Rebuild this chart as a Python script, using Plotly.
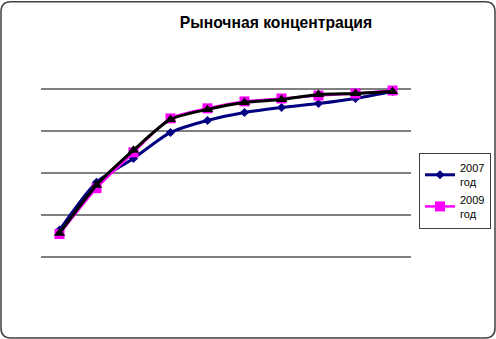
import plotly.graph_objects as go

categories = [1, 2, 3, 4, 5, 6, 7, 8, 9, 10]
series_2007 = [0.329, 0.557, 0.671, 0.795, 0.852, 0.890, 0.914, 0.933, 0.957, 0.990]
series_2009 = [0.310, 0.529, 0.700, 0.862, 0.910, 0.943, 0.957, 0.971, 0.981, 0.995]
series_3 = [0.314, 0.543, 0.710, 0.857, 0.905, 0.938, 0.952, 0.976, 0.981, 0.990]
names = ["2007<br>год", "2009<br>год"]
title_text = "Рыночная концентрация"

W, H = 496, 339
YMAX = 1.05
L, R, B = 41, 411, 299
T = B - 210 * YMAX
pw, ph = R - L, B - T

fig = go.Figure()
fig.add_trace(go.Scatter(
    x=categories, y=series_2007, name=names[0], mode="lines+markers",
    line=dict(color="#000080", width=3, shape="spline", smoothing=0.7),
    marker=dict(symbol="diamond", size=7, color="#000080")))
fig.add_trace(go.Scatter(
    x=categories, y=series_2009, name=names[1], mode="lines+markers",
    line=dict(color="#FF00FF", width=2.5, shape="spline", smoothing=0.7),
    marker=dict(symbol="square", size=10, color="#FF00FF")))
fig.add_trace(go.Scatter(
    x=categories, y=series_3, name="", mode="lines+markers", showlegend=False,
    line=dict(color="#000000", width=3, shape="spline", smoothing=0.7),
    marker=dict(symbol="triangle-up", size=10, color="#000000")))

def px_x(p):
    return (p - L) / pw

def px_y(p):
    return (B - p) / ph

# rounded chart border
x0, x1, y0, y1, r = 1, 495, 1, 338, 10
path = (f"M {px_x(x0 + r)} {px_y(y0)} L {px_x(x1 - r)} {px_y(y0)} "
        f"Q {px_x(x1)} {px_y(y0)} {px_x(x1)} {px_y(y0 + r)} "
        f"L {px_x(x1)} {px_y(y1 - r)} Q {px_x(x1)} {px_y(y1)} {px_x(x1 - r)} {px_y(y1)} "
        f"L {px_x(x0 + r)} {px_y(y1)} Q {px_x(x0)} {px_y(y1)} {px_x(x0)} {px_y(y1 - r)} "
        f"L {px_x(x0)} {px_y(y0 + r)} Q {px_x(x0)} {px_y(y0)} {px_x(x0 + r)} {px_y(y0)} Z")
fig.add_shape(type="path", path=path, xref="paper", yref="paper",
              line=dict(color="#404040", width=1.5), layer="below")

fig.update_layout(
    width=W, height=H,
    margin=dict(l=L, r=W - R, t=T, b=H - B, autoexpand=False),
    paper_bgcolor="white", plot_bgcolor="white",
    font=dict(family="Liberation Sans, Arial, sans-serif", color="black"),
    title=dict(text=f"<b>{title_text}</b>", x=276 / W, xanchor="center", xref="container",
               y=1 - 23 / H, yanchor="middle", yref="container", font=dict(size=15.7)),
    showlegend=True,
    legend=dict(x=419 / W, y=1 - 153 / H, xref="container", yref="container",
                xanchor="left", yanchor="top",
                bordercolor="#404040", borderwidth=1, bgcolor="white",
                font=dict(size=11), tracegroupgap=0, itemwidth=30),
    xaxis=dict(range=[0.5, 10.5], showgrid=False, showticklabels=False,
               zeroline=False, showline=False, ticks=""),
    yaxis=dict(range=[0, YMAX], tick0=0, dtick=0.2, showgrid=True, gridcolor="#808080", gridwidth=1.5,
               showticklabels=False, zeroline=False, showline=False, ticks=""),
)

fig.write_html("out.html")
